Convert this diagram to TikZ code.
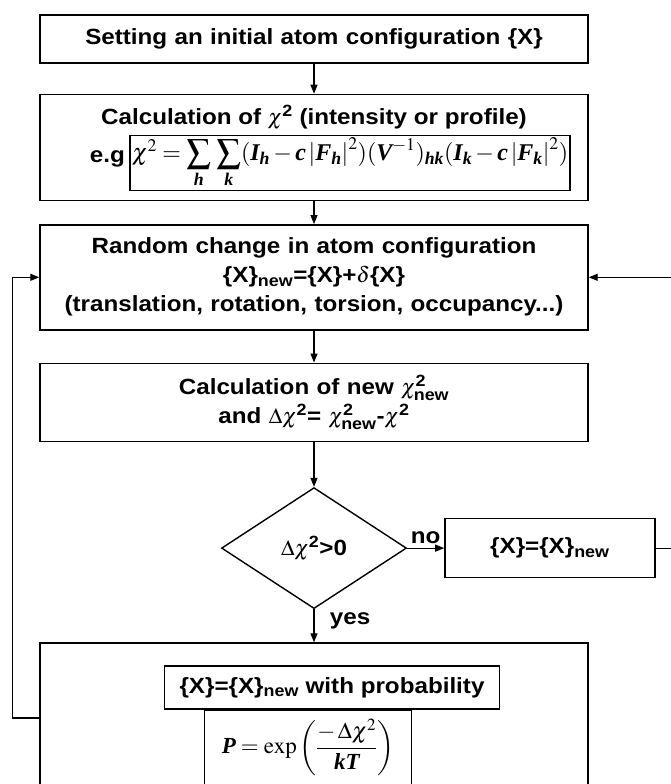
\documentclass[tikz,border=0pt]{standalone}
\usepackage{amsmath}
\usepackage{mathptmx}
\usepackage[no-math]{fontspec}
\setmainfont{Liberation Sans}[FakeStretch=1.1]
\newfontfamily\tms{Liberation Serif}
\usetikzlibrary{arrows.meta,positioning,shapes.geometric}
\newcommand\bv[1]{\text{\tms\bfseries\itshape #1}}
\newcommand\nsub{_{\text{new}}}
\newcommand\sqr{^{\text{2}}}
\tikzset{
  stepbox/.style={
    draw, line width=1.4pt, minimum width=548pt, text width=530pt,
    align=center, inner sep=4pt, font=\fontsize{22}{29}\selectfont\bfseries},
  formbox/.style={draw, line width=1.3pt, inner sep=3pt, font=\fontsize{24}{28}\selectfont},
  tag/.style={font=\fontsize{22}{26}\selectfont\bfseries},
  flow/.style={-{Triangle[length=9pt,width=7pt]}, line width=1.2pt},
}

\begin{document}
\begin{tikzpicture}[x=1pt, y=-1pt]
  \useasboundingbox (0,0) rectangle (670,784);
  \node[stepbox, minimum height=48pt] (init) at (314,39) {Setting an initial atom configuration \{X\}};
  \node[stepbox, minimum height=106pt, below=30pt of init] (chi) {};
  \node[tag, below=8pt of chi.north] (chititle) {Calculation of $\chi\sqr$ (intensity or profile)};
  \node[formbox, minimum width=440pt, minimum height=55pt, inner sep=1pt, anchor=north east] (chiform)
    at ([xshift=-18pt, yshift=-41pt]chi.north east)
    {$\chi^2 = \displaystyle\sum_{\bv{h}}\,\sum_{\bv{k}}(\bv{I}_{\bv{h}} - \bv{c}\left|\bv{F}_{\bv{h}}\right|^2)(\bv{V}^{-1})_{\bv{hk}}(\bv{I}_{\bv{k}} - \bv{c}\left|\bv{F}_{\bv{k}}\right|^2)$};
  \node[tag, left=1pt of chiform, yshift=4pt] (eg) {e.g};
  \node[stepbox, minimum height=105pt, below=23pt of chi] (move) {Random change in atom configuration\\
    \{X\}$\nsub$=\{X\}+$\delta$\{X\}\\
    (translation, rotation, torsion, occupancy...)};
  \node[stepbox, minimum height=78pt, below=32pt of move] (newchi) {Calculation of new $\chi\sqr\nsub$\\
    and $\Delta\chi\sqr$= $\chi\sqr\nsub$-$\chi\sqr$};
  \node[diamond, draw, line width=1.4pt, minimum width=185pt, minimum height=121pt, inner sep=0pt,
    below=45pt of newchi, tag] (test) {$\Delta\chi\sqr$>0};
  \node[stepbox, minimum width=210pt, text width=190pt, minimum height=59pt, right=37pt of test] (keep) {\{X\}=\{X\}$\nsub$};
  \node[stepbox, minimum height=150pt, below=33pt of test] (accept) {};
  \node[formbox, tag, minimum width=335pt, minimum height=43pt, below=23pt of accept.north, xshift=18pt] (prob)
    {\{X\}=\{X\}$\nsub$ with probability};
  \node[formbox, font=\fontsize{23}{28}\selectfont, minimum width=207pt, minimum height=74pt, inner sep=1pt,
    below=0pt of prob, xshift=-24pt] (pform)
    {$\bv{P} = \exp\left(\dfrac{-\,\Delta\chi^2}{\bv{kT}}\right)$};

  \draw[flow] (init) -- (chi);
  \draw[flow] (chi) -- (move);
  \draw[flow] (move) -- (newchi);
  \draw[flow] (newchi) -- (test);
  \draw[flow] (test) -- node[tag, above] {no} (keep);
  \draw[flow] (test) -- node[tag, right=12pt, pos=0.35] {yes} (accept);
  \draw[flow] (keep.east) -- ++(20pt,0) |- (move.east);
  \draw[flow] (accept.west) -- ++(-27pt,0) |- (move.west);
\end{tikzpicture}
\end{document}
